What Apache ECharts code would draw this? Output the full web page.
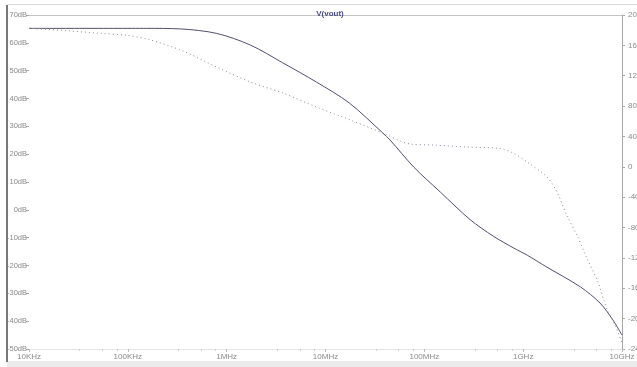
<!DOCTYPE html>
<html>
<head>
<meta charset="utf-8">
<script src="https://cdn.jsdelivr.net/npm/echarts@6/dist/echarts.min.js"></script>
<style>
html,body{margin:0;padding:0;background:#fff;}
#chart{width:637px;height:367px;}
</style>
</head>
<body>
<div id="chart"></div>
<script>
// Frequency tick labels (decades 1e4 .. 1e10)
const xTickLabels = ['10KHz','100KHz','1MHz','10MHz','100MHz','1GHz','10GHz'];

// Trace 1: magnitude (dB), left axis
const magFreq = [1e4, 1.55e5, 3.4e5, 7.9e5, 1.74e6, 3.7e6, 8.1e6, 1.74e7, 3.8e7, 4.5e7, 7.8e7, 1.45e8, 2.9e8, 5.0e8, 7.9e8, 1.1e9, 1.74e9, 3.8e9, 6.0e9, 8.1e9, 1e10];
const magDb   = [65.2, 65.2, 65.0, 63.4, 59.2, 52.8, 45.9, 38.4, 27.6, 25.1, 15.4, 6.4, -3.5, -9.5, -13.6, -16.3, -20.6, -27.7, -33.5, -39.6, -45.0];

// Trace 2: phase (deg), right axis
const phFreq = [1e4, 2.4e4, 5.2e4, 9.8e4, 1.66e5, 3.6e5, 7.9e5, 1.74e6, 3.7e6, 8.1e6, 1.78e7, 3.8e7, 7.2e7, 1.23e8, 2.7e8, 5.9e8, 7.9e8, 1.1e9, 1.74e9, 2.2e9, 2.75e9, 3.5e9, 4.4e9, 5.6e9, 7.1e9, 8.5e9, 1e10];
const phDeg  = [182.5, 179.3, 175.9, 173.2, 167.5, 152.6, 131.5, 111.7, 97.2, 78.8, 61.7, 44.5, 30, 28.7, 26.1, 24.1, 18.2, 6.3, -13.4, -33.2, -63.5, -89.9, -120.2, -149, -188.7, -208.4, -232];

const FONT = 'Liberation Sans';
const chart = echarts.init(document.getElementById('chart'), null, {renderer:'canvas'});

chart.setOption({
  animation: false,
  backgroundColor: '#fff',
  title: {
    text: 'V(vout)',
    left: 325, top: 5, textAlign: 'center',
    textStyle: {fontFamily: FONT, fontSize: 8, fontWeight: 'bold', color: '#4a4a86'}
  },
  grid: {left: 29, right: 15, top: 15, bottom: 18, containLabel: false, outerBoundsMode: 'none'},
  xAxis: [{
    type: 'log', logBase: 10, min: 1e4, max: 1e10, position: 'bottom',
    axisLine: {show: true, onZero: false, lineStyle: {color: '#e4e4e4', width: 1}},
    axisTick: {show: true, length: 3, lineStyle: {color: '#bbb'}},
    minorTick: {show: true, splitNumber: 4, length: 2, lineStyle: {color: '#d0d0d0'}},
    splitLine: {show: false},
    axisLabel: {
      fontFamily: FONT, fontSize: 8, color: '#8a8a8a', margin: 4,
      formatter: v => xTickLabels[Math.round(Math.log10(v)) - 4] || ''
    }
  }, {
    type: 'log', logBase: 10, min: 1e4, max: 1e10, position: 'top',
    axisLine: {show: true, onZero: false, lineStyle: {color: '#c4c4c4', width: 1}},
    axisTick: {show: false}, axisLabel: {show: false}, splitLine: {show: false}
  }],
  yAxis: [{
    type: 'value', min: -50, max: 70, interval: 10, position: 'left',
    axisLine: {show: false},
    axisTick: {show: true, length: 3, lineStyle: {color: '#aaa'}},
    splitLine: {show: false},
    axisLabel: {fontFamily: FONT, fontSize: 7.5, color: '#8a8a8a', margin: 2, formatter: v => v + 'dB'}
  }, {
    type: 'value', min: -240, max: 200, interval: 40, position: 'right',
    axisLine: {show: true, onZero: false, lineStyle: {color: '#a8a8a8', width: 1}},
    axisTick: {show: true, length: 3, lineStyle: {color: '#aaa'}},
    splitLine: {show: false},
    axisLabel: {fontFamily: FONT, fontSize: 8, color: '#8a8a8a', margin: 6, align: 'left'}
  }],
  graphic: [
    {type: 'line', shape: {x1: 7, y1: 4.5, x2: 637, y2: 4.5}, style: {stroke: '#dcdcdc', lineWidth: 1}, silent: true},
    {type: 'rect', shape: {x: 7, y: 361, width: 630, height: 6}, style: {fill: '#ebebeb'}, silent: true},
    {type: 'line', shape: {x1: 7, y1: 5, x2: 7, y2: 362}, style: {stroke: '#4a4a4a', lineWidth: 1.5}, silent: true}
  ],
  series: [{
    name: 'mag', type: 'line', xAxisIndex: 0, yAxisIndex: 0,
    data: magFreq.map((f, i) => [f, magDb[i]]),
    showSymbol: false, smooth: 0.3,
    lineStyle: {color: '#50506e', width: 1}
  }, {
    name: 'phase', type: 'line', xAxisIndex: 0, yAxisIndex: 1,
    data: phFreq.map((f, i) => [f, phDeg[i]]),
    showSymbol: false, smooth: 0.3,
    lineStyle: {color: '#8c8c9c', width: 1, type: [1, 3]}
  }]
});
</script>
</body>
</html>
